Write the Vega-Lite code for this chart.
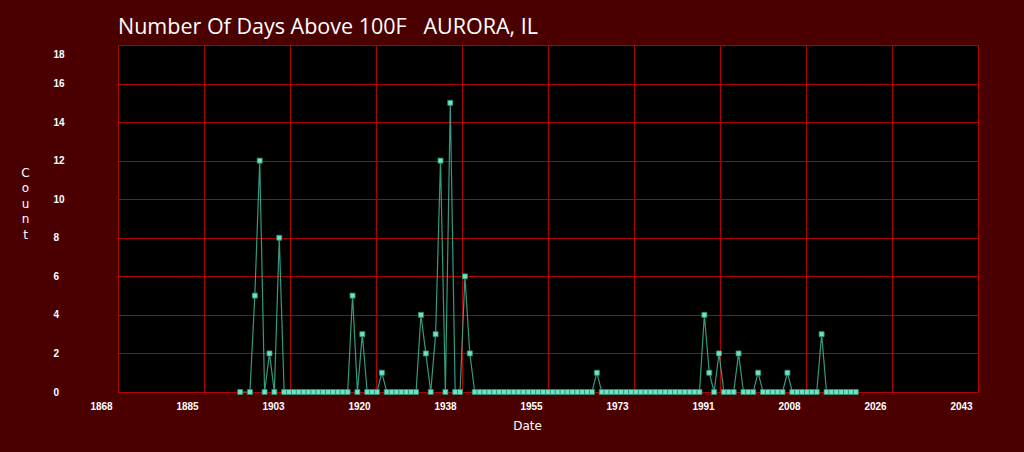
{
  "$schema": "https://vega.github.io/schema/vega-lite/v6.json",
  "width": 860,
  "height": 347,
  "autosize": {"type": "none"},
  "padding": {"left": 118, "top": 45, "right": 46, "bottom": 60},
  "background": "#4b0000",
  "title": {
    "text": "Number Of Days Above 100F\u00a0\u00a0\u00a0AURORA, IL",
    "anchor": "start",
    "frame": "group",
    "baseline": "alphabetic",
    "offset": 17,
    "dy": 27,
    "dx": 0,
    "font": "Open Sans",
    "fontSize": 21.5,
    "fontWeight": "normal",
    "color": "#ffffff"
  },
  "config": {
    "view": {"fill": "#000000", "stroke": "#b00000", "strokeWidth": 1},
    "axis": {
      "domain": false,
      "ticks": false,
      "tickSize": 0,
      "grid": true,
      "gridColor": "#b00000",
      "gridWidth": 1,
      "gridOpacity": 1,
      "labelColor": "#ffffff",
      "labelFont": "Liberation Sans",
      "labelFontWeight": "bold",
      "labelFontSize": 10,
      "titleColor": "#ffffff",
      "titleFontWeight": "normal"
    }
  },
  "data": {
    "values": [
      {"year": 1893, "count": 0},
      {"year": 1895, "count": 0},
      {"year": 1896, "count": 5},
      {"year": 1897, "count": 12},
      {"year": 1898, "count": 0},
      {"year": 1899, "count": 2},
      {"year": 1900, "count": 0},
      {"year": 1901, "count": 8},
      {"year": 1902, "count": 0},
      {"year": 1903, "count": 0},
      {"year": 1904, "count": 0},
      {"year": 1905, "count": 0},
      {"year": 1906, "count": 0},
      {"year": 1907, "count": 0},
      {"year": 1908, "count": 0},
      {"year": 1909, "count": 0},
      {"year": 1910, "count": 0},
      {"year": 1911, "count": 0},
      {"year": 1912, "count": 0},
      {"year": 1913, "count": 0},
      {"year": 1914, "count": 0},
      {"year": 1915, "count": 0},
      {"year": 1916, "count": 5},
      {"year": 1917, "count": 0},
      {"year": 1918, "count": 3},
      {"year": 1919, "count": 0},
      {"year": 1920, "count": 0},
      {"year": 1921, "count": 0},
      {"year": 1922, "count": 1},
      {"year": 1923, "count": 0},
      {"year": 1924, "count": 0},
      {"year": 1925, "count": 0},
      {"year": 1926, "count": 0},
      {"year": 1927, "count": 0},
      {"year": 1928, "count": 0},
      {"year": 1929, "count": 0},
      {"year": 1930, "count": 4},
      {"year": 1931, "count": 2},
      {"year": 1932, "count": 0},
      {"year": 1933, "count": 3},
      {"year": 1934, "count": 12},
      {"year": 1935, "count": 0},
      {"year": 1936, "count": 15},
      {"year": 1937, "count": 0},
      {"year": 1938, "count": 0},
      {"year": 1939, "count": 6},
      {"year": 1940, "count": 2},
      {"year": 1941, "count": 0},
      {"year": 1942, "count": 0},
      {"year": 1943, "count": 0},
      {"year": 1944, "count": 0},
      {"year": 1945, "count": 0},
      {"year": 1946, "count": 0},
      {"year": 1947, "count": 0},
      {"year": 1948, "count": 0},
      {"year": 1949, "count": 0},
      {"year": 1950, "count": 0},
      {"year": 1951, "count": 0},
      {"year": 1952, "count": 0},
      {"year": 1953, "count": 0},
      {"year": 1954, "count": 0},
      {"year": 1955, "count": 0},
      {"year": 1956, "count": 0},
      {"year": 1957, "count": 0},
      {"year": 1958, "count": 0},
      {"year": 1959, "count": 0},
      {"year": 1960, "count": 0},
      {"year": 1961, "count": 0},
      {"year": 1962, "count": 0},
      {"year": 1963, "count": 0},
      {"year": 1964, "count": 0},
      {"year": 1965, "count": 0},
      {"year": 1966, "count": 1},
      {"year": 1967, "count": 0},
      {"year": 1968, "count": 0},
      {"year": 1969, "count": 0},
      {"year": 1970, "count": 0},
      {"year": 1971, "count": 0},
      {"year": 1972, "count": 0},
      {"year": 1973, "count": 0},
      {"year": 1974, "count": 0},
      {"year": 1975, "count": 0},
      {"year": 1976, "count": 0},
      {"year": 1977, "count": 0},
      {"year": 1978, "count": 0},
      {"year": 1979, "count": 0},
      {"year": 1980, "count": 0},
      {"year": 1981, "count": 0},
      {"year": 1982, "count": 0},
      {"year": 1983, "count": 0},
      {"year": 1984, "count": 0},
      {"year": 1985, "count": 0},
      {"year": 1986, "count": 0},
      {"year": 1987, "count": 0},
      {"year": 1988, "count": 4},
      {"year": 1989, "count": 1},
      {"year": 1990, "count": 0},
      {"year": 1991, "count": 2},
      {"year": 1992, "count": 0},
      {"year": 1993, "count": 0},
      {"year": 1994, "count": 0},
      {"year": 1995, "count": 2},
      {"year": 1996, "count": 0},
      {"year": 1997, "count": 0},
      {"year": 1998, "count": 0},
      {"year": 1999, "count": 1},
      {"year": 2000, "count": 0},
      {"year": 2001, "count": 0},
      {"year": 2002, "count": 0},
      {"year": 2003, "count": 0},
      {"year": 2004, "count": 0},
      {"year": 2005, "count": 1},
      {"year": 2006, "count": 0},
      {"year": 2007, "count": 0},
      {"year": 2008, "count": 0},
      {"year": 2009, "count": 0},
      {"year": 2010, "count": 0},
      {"year": 2011, "count": 0},
      {"year": 2012, "count": 3},
      {"year": 2013, "count": 0},
      {"year": 2014, "count": 0},
      {"year": 2015, "count": 0},
      {"year": 2016, "count": 0},
      {"year": 2017, "count": 0},
      {"year": 2018, "count": 0},
      {"year": 2019, "count": 0}
    ]
  },
  "encoding": {
    "x": {
      "field": "year",
      "type": "quantitative",
      "scale": {"domain": [1868, 2044], "nice": false, "zero": false},
      "axis": {
        "title": "Date",
        "values": [1868, 1885.6, 1903.2, 1920.8, 1938.4, 1956, 1973.6, 1991.2, 2008.8, 2026.4, 2044],
        "labelExpr": "['1868','1885','1903','1920','1938','1955','1973','1991','2008','2026','2043'][round((datum.value-1868)/17.6)]",
        "labelOffset": -17,
        "labelPadding": 9,
        "labelFlush": false,
        "labelOverlap": false,
        "titleFont": "DejaVu Sans",
        "titleFontSize": 12,
        "titleX": 409,
        "titleY": 33,
        "titleBaseline": "middle",
        "titleAlign": "center"
      }
    },
    "y": {
      "field": "count",
      "type": "quantitative",
      "scale": {"domain": [0, 18], "nice": false},
      "axis": {
        "title": ["C", "o", "u", "n", "t"],
        "values": [0, 2, 4, 6, 8, 10, 12, 14, 16, 18],
        "labelAlign": "left",
        "labelPadding": 65,
        "labelFlush": false,
        "labelOffset": {"condition": {"test": "datum.value == 18", "value": 9}, "value": 0},
        "titleAngle": 0,
        "titleFont": "DejaVu Sans",
        "titleFontSize": 12,
        "titleLineHeight": 15.5,
        "titleAlign": "center",
        "titleBaseline": "top",
        "titleX": -93,
        "titleY": 122
      }
    }
  },
  "layer": [
    {
      "mark": {"type": "line", "color": "#3fb394", "strokeWidth": 1.2, "opacity": 0.85}
    },
    {
      "mark": {"type": "square", "size": 25, "filled": true, "color": "#6fe3c3", "stroke": "#2f8f75", "strokeWidth": 0.8, "opacity": 1}
    }
  ]
}
